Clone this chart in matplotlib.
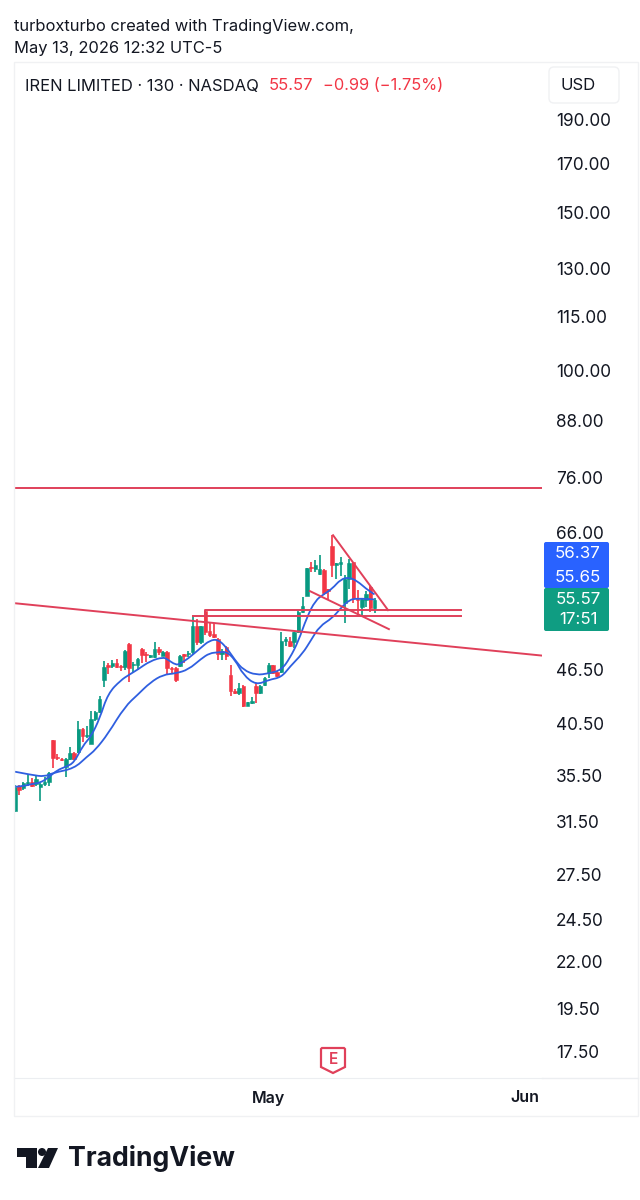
import matplotlib
matplotlib.use('Agg')
import matplotlib.pyplot as plt
from matplotlib.patches import Rectangle, FancyBboxPatch, Polygon, Circle, PathPatch
from matplotlib.path import Path

plt.rcParams['font.family'] = ['Inter', 'DejaVu Sans']

RED = '#f23645'
DRAW_RED = '#e0405a'
GREEN = '#089981'
BLUE = '#2f5fe0'

# high / open / close / low, one entry per 130 minute bar
opens = [32.4, 34.5, 34.3, 34.65, 34.9, 34.65, 34.45, 34.7, 34.9, 38.85,
         37.2, 37.0, 36.25, 36.95, 37.6, 37.65, 39.9, 39.25, 38.45, 41.0,
         41.7, 45.25, 47.1, 46.95, 47.35, 46.9, 46.85, 49.7, 47.05, 47.05,
         49.0, 48.4, 48.05, 48.05, 49.0, 48.2, 48.65, 46.7, 46.7, 46.9,
         48.4, 48.4, 48.6, 51.95, 49.85, 54.05, 51.3, 50.95, 50.25, 48.45,
         49.3, 45.85, 44.0, 43.8, 44.6, 42.4, 42.7, 44.6, 43.8, 44.7,
         46.05, 47.05, 46.25, 46.25, 50.05, 50.05, 49.95, 51.25, 53.9, 56.2,
         60.5, 60.1, 59.4, 60.05, 57.1, 63.85, 60.85, 60.95, 55.1, 58.6,
         61.2, 55.75, 54.6, 55.6, 57.5, 54.4]
highs = [34.6, 34.57, 34.9, 35.6, 35.2, 35.5, 34.75, 35.3, 35.75, 38.85,
         37.5, 37.05, 37.05, 38.1, 37.65, 40.75, 40.0, 40.25, 41.85, 41.85,
         43.5, 47.55, 47.25, 47.6, 47.75, 47.05, 48.9, 49.8, 47.45, 47.85,
         49.2, 48.6, 48.3, 49.95, 49.25, 48.75, 48.75, 46.85, 46.8, 48.25,
         48.45, 48.8, 53.35, 52.9, 52.0, 54.05, 52.55, 52.35, 50.4, 49.0,
         49.4, 47.0, 44.3, 44.9, 44.7, 42.8, 43.3, 44.9, 44.7, 45.6,
         47.25, 47.1, 46.35, 51.25, 50.6, 50.5, 51.25, 54.05, 56.0, 60.35,
         61.3, 61.55, 62.35, 60.15, 57.2, 65.6, 61.1, 62.1, 59.3, 61.7,
         61.3, 57.0, 55.8, 56.8, 57.6, 55.8]
lows = [32.3, 33.7, 34.2, 34.55, 34.45, 34.55, 33.25, 34.5, 34.5, 36.1,
        36.85, 36.75, 35.3, 36.9, 36.85, 37.6, 38.65, 39.0, 38.4, 40.8,
        41.65, 44.5, 46.0, 46.65, 46.65, 46.3, 46.5, 45.1, 46.25, 46.5,
        47.3, 47.4, 47.85, 47.85, 48.25, 48.15, 45.95, 46.0, 45.05, 46.8,
        47.35, 48.05, 48.45, 49.5, 49.7, 50.8, 50.6, 50.4, 47.65, 47.65,
        47.65, 43.5, 43.7, 43.6, 42.3, 42.35, 42.55, 42.65, 43.7, 44.6,
        45.5, 46.0, 45.6, 46.15, 49.4, 49.3, 49.1, 51.1, 53.8, 56.1,
        59.75, 59.75, 59.25, 56.3, 55.6, 59.0, 58.6, 59.1, 52.35, 57.2,
        55.1, 53.45, 53.15, 54.6, 53.9, 53.7]
closes = [34.4, 34.2, 34.75, 34.9, 34.5, 35.1, 34.7, 34.9, 35.7, 37.1,
          37.05, 36.85, 36.95, 37.6, 37.0, 39.9, 39.25, 39.35, 41.0, 41.7,
          43.1, 46.85, 46.85, 47.35, 46.8, 46.8, 48.8, 46.7, 47.2, 47.75,
          48.3, 48.3, 48.25, 49.0, 48.65, 48.7, 46.7, 46.55, 45.25, 48.15,
          48.2, 48.5, 52.0, 49.85, 51.95, 51.25, 50.8, 50.6, 48.4, 48.7,
          48.15, 44.05, 43.85, 44.4, 42.4, 42.75, 42.95, 43.8, 44.6, 45.5,
          47.1, 46.05, 45.7, 50.0, 50.25, 49.4, 51.25, 53.9, 54.75, 60.35,
          60.35, 60.85, 60.1, 56.6, 56.85, 60.85, 61.1, 61.2, 58.6, 61.1,
          55.8, 55.6, 55.65, 56.5, 54.4, 55.57]

# the two moving averages, read every couple of bars
fast_bars = [0, 2, 4, 6, 8, 10, 12, 14, 16, 18, 20, 22, 25, 27, 29, 32, 35, 36, 38, 39, 41, 44,
             46, 48, 50, 52, 54, 57, 60, 63, 65, 67, 69, 71, 73, 75, 77, 79, 81, 83, 85]
fast_ma = [34.45, 34.5, 34.7, 34.8, 35.3, 35.95, 36.25, 36.65, 38.25, 39.2, 41.0, 43.75, 45.25,
           45.9, 46.5, 47.55, 48.0, 47.75, 47.05, 47.2, 47.85, 49.2,
           50.1, 50.25, 49.2, 47.65, 46.45, 45.85, 46.05, 46.45, 47.9, 50.0, 53.15, 55.5, 56.4,
           57.2, 58.6, 58.9, 58.3, 57.2, 56.37]
slow_bars = [0, 4, 7, 9, 14, 17, 19, 22, 26, 29, 32, 35, 38, 41, 44,
             46, 48, 50, 52, 54, 57, 60, 63, 65, 68, 70, 72, 75, 77, 79, 81, 85]
slow_ma = [35.8, 35.5, 35.35, 35.7, 36.1, 37.2, 37.85, 39.45, 42.3, 43.6, 45.0, 45.9, 46.05,
           46.5, 47.8, 48.5, 48.6, 48.7, 47.7, 45.85, 44.7, 45.3, 45.6, 46.85, 48.45, 50.15,
           51.95, 53.05, 54.4, 55.6, 55.8, 55.65]

price_ticks = [190, 170, 150, 130, 115, 100, 88, 76, 66, 46.5, 40.5, 35.5, 31.5, 27.5, 24.5, 22, 19.5, 17.5]
month_bars = [60, 120.5]
month_labels = ['May', 'Jun']

# drawings made on the chart (bar, price)
resistance = 74.0
trend_bars = [-0.3, 124.6]
trend_prices = [55.13, 48.2]
wedge_top_bars = [75.2, 88.2]
wedge_top_prices = [65.6, 54.15]
wedge_low_bars = [69.7, 88.4]
wedge_low_prices = [56.86, 51.58]
zone_top = 54.15
zone_bottom = 53.33
zone_top_left = 45
zone_bottom_left = 42
zone_right = 105.4


def smooth_line(ax, xs, ys, **kw):
    # rounded corners between the read values, like the original curve
    verts = [(xs[0], ys[0])]
    codes = [Path.MOVETO]
    for j in range(1, len(xs) - 1):
        verts += [(xs[j], ys[j]), ((xs[j] + xs[j + 1]) / 2, (ys[j] + ys[j + 1]) / 2)]
        codes += [Path.CURVE3, Path.CURVE3]
    verts.append((xs[-1], ys[-1]))
    codes.append(Path.LINETO)
    ax.add_patch(PathPatch(Path(verts, codes), fill=False, **kw))


fig = plt.figure(figsize=(6.4, 12), dpi=100)
W, H = 640, 1200
ax = fig.add_axes([14 / W, 1 - 1078 / H, (542 - 14) / W, (1078 - 62) / H])
ax.set_yscale('log')
ax.set_ylim(16.34, 220.4)
ax.set_xlim(-0.24, 124.6)

for i in range(len(opens)):
    col = GREEN if closes[i] >= opens[i] else RED
    ax.plot([i, i], [lows[i], highs[i]], color=col, lw=1.2, solid_capstyle='butt', zorder=2)
    ax.add_patch(Rectangle((i - 0.42, min(opens[i], closes[i])), 0.84, abs(closes[i] - opens[i]),
                           facecolor=col, edgecolor=col, lw=0.4, zorder=3))

smooth_line(ax, fast_bars, fast_ma, edgecolor=BLUE, lw=1.3, zorder=4)
smooth_line(ax, slow_bars, slow_ma, edgecolor=BLUE, lw=1.3, zorder=4)

ax.axhline(resistance, color=DRAW_RED, lw=1.4, zorder=5)
ax.plot(trend_bars, trend_prices, color=DRAW_RED, lw=1.4, zorder=5)
ax.plot(wedge_top_bars, wedge_top_prices, color=DRAW_RED, lw=1.4, zorder=5)
ax.plot(wedge_low_bars, wedge_low_prices, color=DRAW_RED, lw=1.4, zorder=5)
ax.plot([zone_right, zone_top_left, zone_top_left], [zone_top, zone_top, zone_bottom], color=DRAW_RED, lw=1.4, zorder=5)
ax.plot([zone_bottom_left, zone_right], [zone_bottom, zone_bottom], color=DRAW_RED, lw=1.4, zorder=5)

ax.yaxis.tick_right()
ax.set_yticks(price_ticks)
ax.set_yticklabels(['%.2f' % p for p in price_ticks], fontsize=12.4, color='#131722')
ax.minorticks_off()
ax.set_xticks(month_bars)
ax.set_xticklabels(month_labels, fontsize=11.5, color='#131722', fontweight='semibold')
ax.tick_params(axis='y', length=0, pad=10)
ax.tick_params(axis='x', length=0, pad=9)
for s in ['top', 'left', 'right']:
    ax.spines[s].set_visible(False)
ax.spines['bottom'].set_color('#eceef1')

# overlay in pixel units for the chrome around the chart
ov = fig.add_axes([0, 0, 1, 1], facecolor='none')
ov.set_xlim(0, W)
ov.set_ylim(H, 0)
ov.axis('off')

ov.add_patch(Rectangle((14, 62), 624, 1054, fill=False, edgecolor='#f0f1f3', lw=1))
ov.plot([542, 638], [1078, 1078], color='#eceef1', lw=1)
ov.add_patch(FancyBboxPatch((552, 70), 64, 30, boxstyle='round,pad=3,rounding_size=5',
                            facecolor='white', edgecolor='#f0f1f3', lw=1))
ov.text(578, 85, 'USD', fontsize=12, color='#131722', ha='center', va='center')

ov.text(14, 26, 'turboxturbo created with TradingView.com,', fontsize=11.9, color='#131722', va='center')
ov.text(14, 48, 'May 13, 2026 12:32 UTC-5', fontsize=11.9, color='#131722', va='center')
ov.text(25, 86, 'IREN LIMITED · 130 · NASDAQ', fontsize=11.95, color='#131722', va='center')
ov.text(269, 86, '55.57', fontsize=12, color=RED, va='center')
ov.text(323, 86, '−0.99 (−1.75%)', fontsize=11.8, color=RED, va='center')

# last value tags
ov.add_patch(FancyBboxPatch((544, 542), 65, 46, boxstyle='round,pad=0,rounding_size=2',
                            facecolor='#2962ff', edgecolor='none'))
ov.add_patch(FancyBboxPatch((544, 588), 65, 43, boxstyle='round,pad=0,rounding_size=2',
                            facecolor='#0f9d82', edgecolor='none'))
for y, t in [(553, '56.37'), (577, '55.65'), (600, '55.57'), (620, '17:51')]:
    ov.text(578, y, t, fontsize=12.2, color='white', ha='center', va='center')

# earnings marker
ov.add_patch(Polygon([(322, 1048), (344, 1048), (345, 1049), (345, 1067), (333, 1073), (321, 1067), (321, 1049)],
                     closed=True, facecolor='white', edgecolor='#e0405a', lw=1.6, zorder=6))
ov.text(333, 1060, 'E', fontsize=11, color='#e0405a', ha='center', va='center', fontweight='semibold', zorder=7)

# logo
ov.add_patch(Polygon([(17, 1148), (37, 1148), (37, 1168), (26, 1168), (26, 1157), (17, 1157)],
                     closed=True, facecolor='#131722', edgecolor='none'))
ov.add_patch(Circle((42, 1152), 4, facecolor='#131722', edgecolor='none'))
ov.add_patch(Polygon([(48, 1148), (58, 1148), (49, 1168), (38, 1168)],
                     closed=True, facecolor='#131722', edgecolor='none'))
ov.text(68, 1159, 'TradingView', fontsize=19.2, color='#131722', va='center', fontweight='bold')

fig.savefig('out.png', dpi=100)
